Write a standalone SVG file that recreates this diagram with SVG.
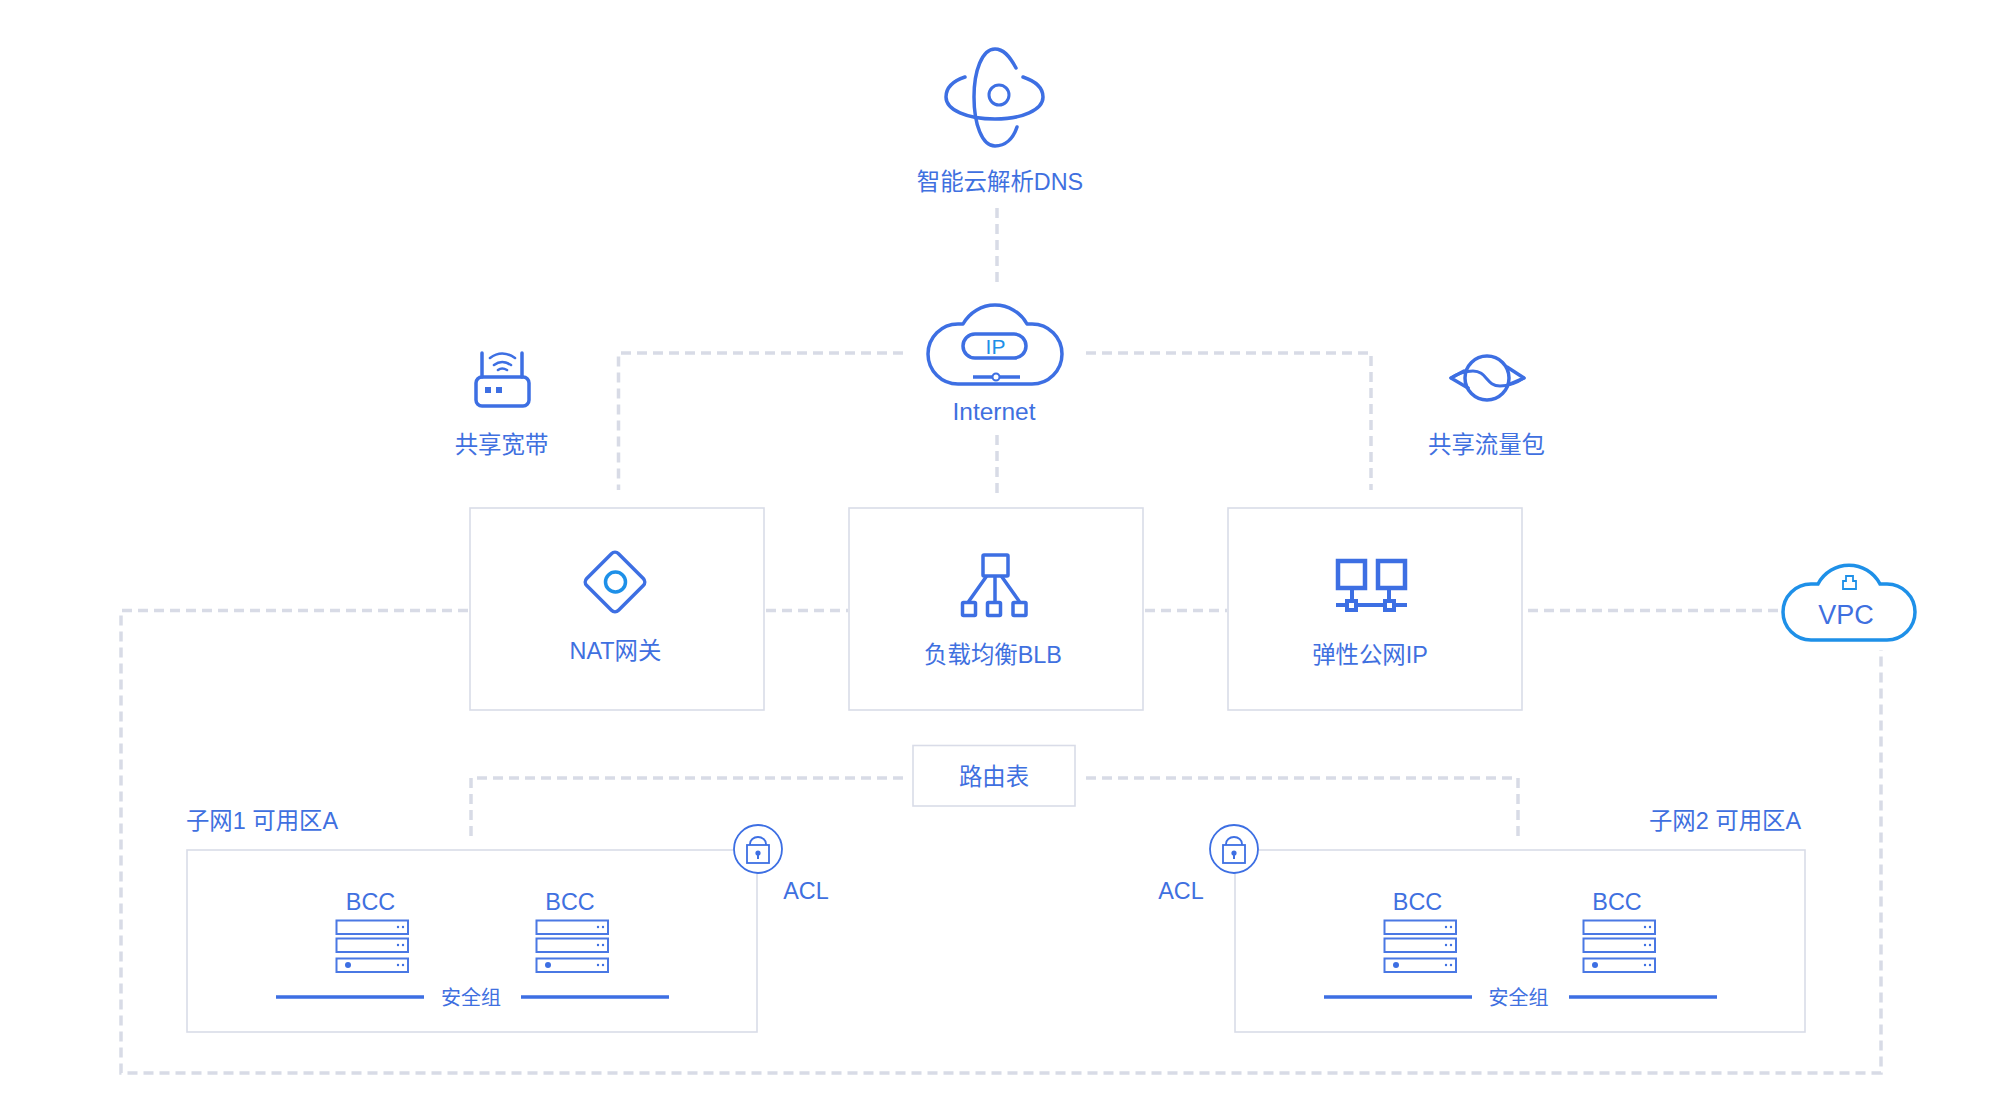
<svg xmlns="http://www.w3.org/2000/svg" xmlns:xlink="http://www.w3.org/1999/xlink" width="2000" height="1120" viewBox="0 0 2000 1120">
<style>
text{font-family:"Liberation Sans","Noto Sans CJK SC",sans-serif;fill:#3f70e0;font-size:23.400px;text-anchor:middle}
.box{fill:#fff;stroke:#d9dce8;stroke-width:1.600}
.dash{fill:none;stroke:#d8dbe6;stroke-width:3.500;stroke-dasharray:10 6}
.ic{fill:none;stroke:#3d6fe3;stroke-width:3.500;stroke-linecap:round;stroke-linejoin:round}
.sky{fill:none;stroke:#1e90e8;stroke-width:3.500}
.fillb{fill:#3d6fe3;stroke:none}
.rack{fill:#fff;stroke:#4a78e4;stroke-width:2}
.dot{fill:#3d6fe3}
.sg{stroke:#3d6fe3;stroke-width:3.500}
</style>
<defs>
<g id="rack">
<rect class="rack" x="0.500" y="0.500" width="71.500" height="13.500"/>
<circle class="dot" cx="62" cy="7" r="1.200"/><circle class="dot" cx="67" cy="7" r="1.200"/>
<rect class="rack" x="0.500" y="18.500" width="71.500" height="13.500"/>
<circle class="dot" cx="62" cy="25" r="1.200"/><circle class="dot" cx="67" cy="25" r="1.200"/>
<rect class="rack" x="0.500" y="38.500" width="71.500" height="13.500"/>
<circle class="dot" cx="62" cy="45" r="1.200"/><circle class="dot" cx="67" cy="45" r="1.200"/>
<circle class="dot" cx="12" cy="45" r="3"/>
</g>
<g id="lock">
<circle cx="0" cy="0" r="24" fill="#fff" stroke="#3d6fe3" stroke-width="1.800"/>
<rect x="-11" y="-4" width="22" height="18" fill="none" stroke="#3d6fe3" stroke-width="1.800"/>
<path d="M-8 -4V-5A8 7 0 0 1 8 -5V-4" fill="none" stroke="#3d6fe3" stroke-width="1.800"/>
<circle class="dot" cx="0" cy="4" r="2.600"/><rect class="dot" x="-1" y="4" width="2" height="6"/>
</g>
</defs>

<g id="connectors">
<path class="dash" d="M997 208V284"/>
<path class="dash" d="M903 353H618.500V490"/>
<path class="dash" d="M1086 353H1371V490"/>
<path class="dash" d="M997 435V497"/>
<path class="dash" d="M468 610.500H121V1073H1881V650"/>
<path class="dash" d="M766 610.500H848"/>
<path class="dash" d="M1145 610.500H1227"/>
<path class="dash" d="M1528 610.500H1778"/>
<path class="dash" d="M903 778H471V840"/>
<path class="dash" d="M1086 778H1518V840"/>
</g>

<g id="dns">
<path class="ic" d="M1016 68C1009 55 1003 49 995 49C982 49 974 71 974 97C974 124 982 146 995 146C1005 146 1013 139 1017 127"/>
<path class="ic" d="M965 77C953 81 946 88 946 97C946 110 967 119 995 119C1022 119 1043 110 1043 97C1043 88 1035 81 1023 77"/>
<circle cx="999" cy="95" r="10" class="ic" style="stroke-width:3"/>
<text x="1000" y="190">智能云解析DNS</text>
</g>

<g id="internet">
<path class="ic" d="M963 324A36.500 36.500 0 0 1 1027 324L1032 324A30 30 0 0 1 1032 384H958A30 30 0 0 1 958 324Z"/>
<rect x="963" y="334" width="63" height="24" rx="12" class="ic"/>
<text x="995.500" y="354" style="fill:#1e90e8;font-size:21px">IP</text>
<path class="ic" d="M973 377H1020" style="stroke-linecap:butt"/>
<circle cx="996" cy="377" r="3.500" fill="#fff" stroke="#3d6fe3" stroke-width="2"/>
<text x="994" y="420" style="font-size:24.500px">Internet</text>
</g>

<g id="shared-bandwidth">
<rect x="476" y="377" width="53" height="29" rx="6" class="ic"/>
<path class="ic" d="M482 353V377M522 353V377"/>
<path class="ic" style="stroke-width:2.600" d="M490 358Q502 349 515 358M494 365Q502 359 511 365M498 370Q502 367 507 370"/>
<rect class="fillb" x="485" y="387" width="6" height="6"/><rect class="fillb" x="496" y="387" width="6" height="6"/>
<text x="501.500" y="453">共享宽带</text>
</g>

<g id="shared-traffic">
<circle cx="1487" cy="378" r="22" class="ic"/>
<path class="ic" d="M1464 371L1451 378L1468 388M1507 367L1524 378L1510 384"/>
<path class="ic" style="stroke-width:3" d="M1451 378C1460 372 1468 371 1473 371C1487 371 1486 386 1500 386C1505 386 1515 384 1524 378"/>
<text x="1486.500" y="453">共享流量包</text>
</g>

<g id="nat">
<rect class="box" x="470" y="508" width="294" height="202"/>
<rect x="592.500" y="559.500" width="45" height="45" rx="5" class="ic" transform="rotate(45 615 582)"/>
<circle cx="615.500" cy="582" r="10" class="sky"/>
<text x="615.500" y="659">NAT网关</text>
</g>

<g id="blb">
<rect class="box" x="849" y="508" width="294" height="202"/>
<rect x="983" y="555" width="25" height="21" rx="1" class="ic" style="stroke-linecap:butt"/>
<path class="ic" d="M986 577L969 601M995 577V601M1002 577L1019 601"/>
<rect x="962.500" y="602.500" width="13" height="13" rx="1" class="ic"/><rect x="987.500" y="602.500" width="13" height="13" rx="1" class="ic"/><rect x="1013" y="602.500" width="13" height="13" rx="1" class="ic"/>
<text x="993" y="663">负载均衡BLB</text>
</g>

<g id="eip">
<rect class="box" x="1228" y="508" width="294" height="202"/>
<rect x="1338" y="561" width="27" height="27" fill="none" stroke="#3d6fe3" stroke-width="4.500"/>
<rect x="1378" y="561" width="27" height="27" fill="none" stroke="#3d6fe3" stroke-width="4.500"/>
<path d="M1352 590V600M1389 590V600M1336 605H1407" stroke="#3d6fe3" stroke-width="4" fill="none"/>
<rect class="fillb" x="1345" y="599" width="13" height="13"/><rect x="1349" y="603" width="5" height="5" fill="#fff"/>
<rect class="fillb" x="1383" y="599" width="13" height="13"/><rect x="1387" y="603" width="5" height="5" fill="#fff"/>
<text x="1370" y="663">弹性公网IP</text>
</g>

<g id="vpc">
<path class="sky" d="M1818 584A35 35 0 0 1 1880 584L1887 584A28 28 0 0 1 1887 640H1811A28 28 0 0 1 1811 584Z"/>
<path fill="none" stroke="#1e90e8" stroke-width="1.800" d="M1843 589V581H1846V576H1853V581H1856V589Z"/>
<text x="1846" y="624" style="font-size:27px">VPC</text>
</g>

<g id="route-table">
<rect class="box" x="913" y="745.500" width="162" height="60.500"/>
<text x="994" y="785">路由表</text>
</g>

<g id="subnet1">
<rect class="box" x="187" y="850" width="570" height="182"/>
<text x="262" y="829">子网1 可用区A</text>
<use xlink:href="#lock" href="#lock" x="758" y="849"/>
<text x="806" y="899">ACL</text>
<text x="370.500" y="910">BCC</text><use xlink:href="#rack" href="#rack" x="336" y="920"/>
<text x="570" y="910">BCC</text><use xlink:href="#rack" href="#rack" x="536" y="920"/>
<path class="sg" d="M276 997H424M521 997H669"/>
<text x="471" y="1005" style="font-size:20px">安全组</text>
</g>

<g id="subnet2">
<rect class="box" x="1235" y="850" width="570" height="182"/>
<text x="1725" y="829">子网2 可用区A</text>
<use xlink:href="#lock" href="#lock" x="1234" y="849"/>
<text x="1181" y="899">ACL</text>
<text x="1417.500" y="910">BCC</text><use xlink:href="#rack" href="#rack" x="1384" y="920"/>
<text x="1617" y="910">BCC</text><use xlink:href="#rack" href="#rack" x="1583" y="920"/>
<path class="sg" d="M1324 997H1472M1569 997H1717"/>
<text x="1518.500" y="1005" style="font-size:20px">安全组</text>
</g>
</svg>
